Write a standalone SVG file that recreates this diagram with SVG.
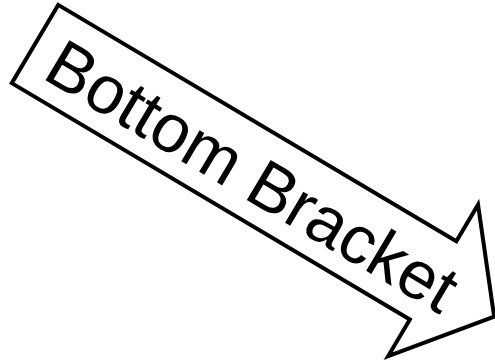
<svg xmlns="http://www.w3.org/2000/svg" width="495" height="363" viewBox="0 0 495 363">
<style>
.arrow{fill:#fff;stroke:#000;stroke-width:4;stroke-linejoin:miter}
.lbl{font-family:"Liberation Sans",Arial,sans-serif;font-size:68px;fill:#000}
</style>
<rect width="495" height="363" fill="#fff"/>
<g id="arrow" transform="translate(35,44) rotate(30.7)">
<path class="arrow" d="M0,-45.5 L463,-45.5 L463,-88 L534,0 L463,88 L463,45.5 L0,45.5 Z"/>
<text class="lbl" x="22" y="26">Bottom Bracket</text>
</g>
</svg>
